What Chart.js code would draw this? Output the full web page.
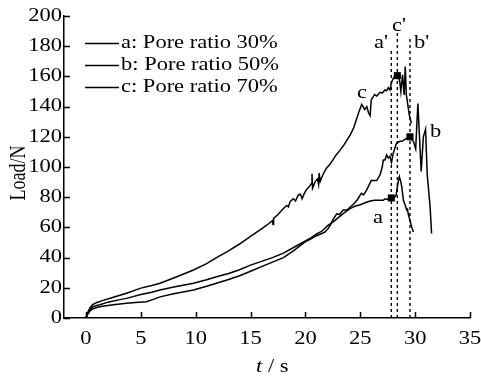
<!DOCTYPE html>
<html>
<head>
<meta charset="utf-8">
<script src="https://cdn.jsdelivr.net/npm/chart.js@4/dist/chart.umd.min.js"></script>
<style>
  html, body { margin: 0; padding: 0; background: #fff; }
</style>
</head>
<body>
<canvas id="loadChart" width="481" height="380"></canvas>
<script>
const xTicks = [0, 5, 10, 15, 20, 25, 30, 35];
const yTicks = [0, 20, 40, 60, 80, 100, 120, 140, 160, 180, 200];

// a: pore ratio 30%
const tA = [0, 0.15, 0.35, 0.6, 1.0, 1.27, 2, 3, 3.7, 5, 6, 6.75, 8, 9.8, 11, 11.9, 13, 14, 15, 16, 17, 18, 19, 20,
  20.5, 21, 21.5, 22, 22.5, 23, 23.5, 24.07, 24.5, 25, 25.5, 25.9, 26.3, 26.8, 27.1, 27.26, 27.5, 27.7, 27.86,
  28.1, 28.26, 28.45, 28.56, 28.7, 28.78, 28.93, 29.08, 29.23, 29.3, 29.4, 29.55, 29.7, 29.84];
const loadA = [0, 3, 5.5, 7.3, 8.3, 8.8, 10.5, 12, 13, 15.5, 17, 18.5, 20.5, 23, 25.3, 27.3, 29.5, 32, 35, 37.5, 40, 43, 47, 51,
  53, 55.5, 57.5, 61, 63.5, 66.5, 69.5, 72.5, 74, 75, 76.5, 77.5, 78, 78, 78, 79, 78.5, 80, 79.5,
  80, 81, 90, 93.6, 90, 87, 78, 75, 71.5, 72, 68, 64, 60, 57];

// b: pore ratio 50%
const tB = [0, 0.15, 0.35, 0.6, 1.0, 1.5, 2.5, 3.7, 4.5, 5.5, 6.2, 6.75, 8, 9.8, 11, 11.9, 13, 14, 15, 16, 17, 18, 19, 20,
  20.5, 21, 21.5, 21.8, 22.1, 22.3, 22.5, 22.85, 23.1, 23.45, 23.8, 24.1, 24.4, 24.7, 25.1, 25.3, 25.6, 25.8, 26.0,
  26.2, 26.5, 26.8, 27.0, 27.1, 27.25, 27.4, 27.55, 27.7, 27.85, 28.0, 28.3, 28.6, 28.8, 29.0, 29.2, 29.53, 29.7,
  29.84, 30.05, 30.25, 30.55, 30.75, 30.95, 31.1, 31.36, 31.5];
const loadB = [0, 2.5, 4.5, 6, 7, 7.8, 8.8, 9.7, 10.3, 10.8, 12.5, 14, 16, 18.5, 21, 23, 25.5, 28, 31, 34, 37, 40, 45, 50.5,
  52.5, 54.5, 56, 57, 59.5, 62, 65, 69, 68.5, 71.5, 71.5, 73.7, 75.5, 78, 82.6, 81.5, 85, 88, 91,
  91, 91, 94.7, 100, 104.6, 104.6, 108, 106, 107, 103, 109, 115.7, 117, 117, 118, 119, 120, 118,
  117, 112, 142, 97, 120, 125, 95, 74, 56];

// c: pore ratio 70%
const tC = [0, 0.15, 0.35, 0.6, 1.0, 1.5, 2.5, 3.7, 5, 6, 6.75, 8, 9.8, 11, 11.9, 13, 14, 15, 16, 16.5, 17, 17.05, 17.1,
  17.5, 18, 18.3, 18.45, 18.6, 18.9, 19.1, 19.35, 19.55, 19.7, 19.9, 20.1, 20.4, 20.55, 20.6, 20.65, 20.9, 21.1,
  21.2, 21.25, 21.35, 21.6, 21.9, 22.2, 22.5, 22.8, 23.15, 23.5, 23.8, 24.1, 24.4, 24.67, 24.9, 25.13, 25.3, 25.4,
  25.6, 25.75, 25.9, 26.0, 26.3, 26.5, 26.8, 27.0, 27.25, 27.4, 27.55, 27.7, 27.85, 28.0, 28.2, 28.45, 28.6, 28.7,
  28.85, 29.0, 29.1, 29.2, 29.47, 29.65];
const loadC = [0, 3.5, 6.5, 8.8, 10.3, 11.5, 13.8, 16.4, 19.8, 21.5, 23, 26.5, 31.8, 36, 40, 44.5, 49, 54, 59, 61.6, 64.5, 62, 66,
  68.5, 72.5, 74.5, 73.5, 77, 79, 77.5, 81.5, 82, 79, 82.5, 85, 87.5, 89, 95.5, 86, 90.5, 92,
  88.5, 96, 90.5, 95, 99, 101.5, 104.5, 108, 111, 114.5, 118, 121.5, 126, 132, 137, 141.5, 139.5, 138,
  140, 136, 134, 144.5, 148, 147, 149.5, 149, 151, 150.5, 152.5, 151, 156, 158.7, 160.5, 160.5, 156.5, 150,
  161, 147.7, 166.5, 147.7, 134.4, 129];

// failure points and their dashed drop lines (a', c', b')
const markerT = [27.83, 28.38, 29.53];
const markerLoad = [79.5, 160.5, 120];
const dropNames = ["a'", "c'", "b'"];
const dropTop = [177, 189, 185];

const legendLabels = ['a: Pore ratio 30%', 'b: Pore ratio 50%', 'c: Pore ratio 70%'];

const FONT = '18px "Liberation Serif", "Times New Roman", serif';
const SX = 1.25; // the original type is set wide

function pts(ts, ls) {
  return ts.map((t, i) => ({ x: t, y: ls[i] }));
}

function curve(ts, ls) {
  return {
    data: pts(ts, ls),
    showLine: true,
    borderColor: '#000',
    borderWidth: 1.5,
    pointRadius: 0,
    tension: 0
  };
}

const drops = markerT.map((t, i) => ({
  data: [{ x: t, y: 0 }, { x: t, y: dropTop[i] }],
  showLine: true,
  borderColor: '#000',
  borderWidth: 1.4,
  borderDash: [3, 3],
  pointRadius: 0
}));

function wideText(ctx, text, x, y, align) {
  ctx.save();
  ctx.translate(x, y);
  ctx.scale(SX, 1);
  ctx.textAlign = align || 'left';
  ctx.fillText(text, 0, 0);
  ctx.restore();
}

const annotate = {
  id: 'annotate',
  afterDraw(chart) {
    const ctx = chart.ctx;
    const xs = chart.scales.x, ys = chart.scales.y;
    const area = chart.chartArea;
    ctx.save();
    ctx.strokeStyle = '#000';
    ctx.fillStyle = '#000';
    ctx.lineWidth = 1.5;

    // inward tick marks
    ctx.beginPath();
    xTicks.forEach(v => {
      const px = Math.round(xs.getPixelForValue(v)) + 0.5;
      ctx.moveTo(px, area.bottom);
      ctx.lineTo(px, area.bottom - 6);
    });
    yTicks.forEach(v => {
      const py = Math.round(ys.getPixelForValue(v)) + 0.5;
      ctx.moveTo(area.left, py);
      ctx.lineTo(area.left + 6, py);
    });
    ctx.stroke();

    ctx.font = FONT;
    ctx.textBaseline = 'middle';
    xTicks.forEach(v => wideText(ctx, String(v), xs.getPixelForValue(v), area.bottom + 21, 'center'));
    yTicks.forEach(v => wideText(ctx, String(v), area.left - 2, ys.getPixelForValue(v), 'right'));

    // axis titles
    ctx.textBaseline = 'alphabetic';
    ctx.font = 'italic ' + FONT;
    const tw = ctx.measureText('t').width * SX;
    wideText(ctx, 't', 256, 372);
    ctx.font = FONT;
    wideText(ctx, ' / s', 256 + tw, 372);

    ctx.save();
    ctx.translate(24.5, (area.top + area.bottom) / 2 + 6);
    ctx.rotate(-Math.PI / 2);
    ctx.scale(1, SX);
    ctx.textAlign = 'center';
    ctx.fillText('Load/N', 0, 0);
    ctx.restore();

    // legend
    const legY = [43, 65, 87];
    legendLabels.forEach((lab, i) => {
      ctx.beginPath();
      ctx.moveTo(85, legY[i] + 0.5);
      ctx.lineTo(119, legY[i] + 0.5);
      ctx.stroke();
      wideText(ctx, lab, 121, legY[i] + 5);
    });

    // curve and drop-line labels
    wideText(ctx, 'c', 357, 98);
    wideText(ctx, 'b', 430, 137);
    wideText(ctx, 'a', 373, 223);
    wideText(ctx, dropNames[0], 374, 48);
    wideText(ctx, dropNames[1], 392, 31);
    wideText(ctx, dropNames[2], 414, 48);
    ctx.restore();
  }
};

new Chart(document.getElementById('loadChart'), {
  type: 'scatter',
  data: {
    datasets: [
      curve(tA, loadA),
      curve(tB, loadB),
      curve(tC, loadC),
      ...drops,
      {
        data: pts(markerT, markerLoad),
        pointStyle: 'rect',
        pointRadius: 5,
        backgroundColor: '#000',
        borderColor: '#000',
        borderWidth: 0
      }
    ]
  },
  options: {
    responsive: false,
    animation: false,
    layout: { padding: { left: 0, right: 11, top: 16, bottom: 0 } },
    plugins: { legend: { display: false }, tooltip: { enabled: false } },
    scales: {
      x: {
        type: 'linear',
        min: -2,
        max: 35,
        afterBuildTicks: s => { s.ticks = xTicks.map(v => ({ value: v })); },
        afterFit: s => { s.height = 62; },
        grid: { display: false },
        border: { color: '#000', width: 1.5 },
        ticks: { display: false }
      },
      y: {
        min: 0,
        max: 200,
        afterBuildTicks: s => { s.ticks = yTicks.map(v => ({ value: v })); },
        afterFit: s => { s.width = 64; },
        grid: { display: false },
        border: { color: '#000', width: 1.5 },
        ticks: { display: false }
      }
    }
  },
  plugins: [annotate]
});
</script>
</body>
</html>
